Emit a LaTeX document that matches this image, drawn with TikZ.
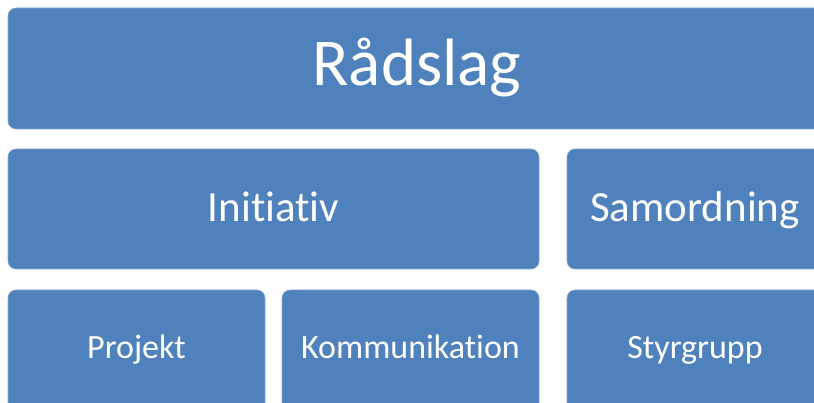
\documentclass[tikz,border=0pt]{standalone}
\usepackage{fontspec}
\setmainfont[Ligatures=NoCommon]{Carlito}
\definecolor{boxblue}{HTML}{4F81BD}
\begin{document}
\begin{tikzpicture}[x=1pt,y=-1pt,
  blk/.style={fill=boxblue,draw=boxblue!70!white,line width=0.6pt,rounded corners=8pt},
  lbl/.style={text=white,inner sep=0pt,anchor=base}]
\useasboundingbox (0,0) rectangle (814,403);
\begin{scope}
\clip (0,0) rectangle (814,403);
\path[blk] (8,8) rectangle (826,129);
\path[blk] (8,149) rectangle (539,269);
\path[blk] (567,149) rectangle (823,269);
\path[blk] (8,290) rectangle (265,412);
\path[blk] (282,290) rectangle (539,412);
\path[blk] (567,290) rectangle (823,412);
\end{scope}
\node[lbl,font=\fontsize{67}{72}\selectfont] (r) at (417,86) {Rådslag};
\node[lbl,font=\fontsize{43}{48}\selectfont] (i) at (273.5,222) {Initiativ};
\node[lbl,font=\fontsize{43}{48}\selectfont] (s) at (695,222) {Samordning};
\node[lbl,font=\fontsize{34}{38}\selectfont] (p) at (136.5,359) {Projekt};
\node[lbl,font=\fontsize{34}{38}\selectfont] (k) at (410.5,359) {Kommunikation};
\node[lbl,font=\fontsize{34}{38}\selectfont] (g) at (695,359) {Styrgrupp};
\end{tikzpicture}
\end{document}
